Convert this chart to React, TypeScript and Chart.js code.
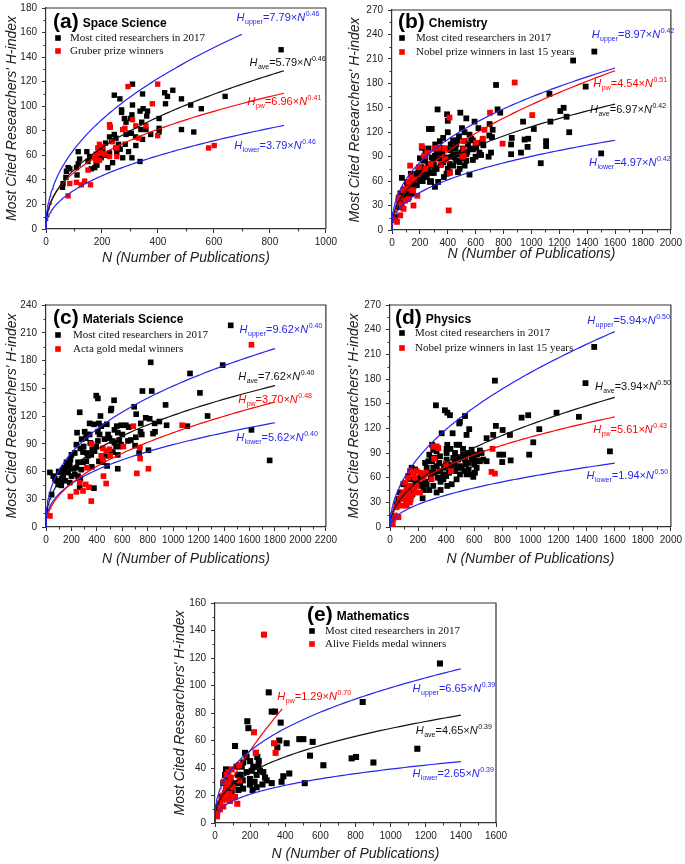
import { useEffect, useRef } from 'react';
import { Chart, registerables } from 'chart.js';
Chart.register(...registerables);

type Pt = [number, number];

const SANS = '"Liberation Sans", Arial, sans-serif';
const SERIF = '"Liberation Serif", "Times New Roman", serif';
const BLUE = '#2424ee';
const RED = '#ff0000';
const BLACK = '#000000';
const AXIS = '#333333';

// ---------- shared text ----------
const X_TITLE = 'N (Number of Publications)';
const Y_TITLE = "Most Cited Researchers' H-index";
const CITED_LABEL = 'Most cited researchers in 2017';
const FIT_KINDS = ['upper', 'ave', 'pw', 'lower'];

// ---------- (a) Space Science ----------
const spaceCited: Pt[] = [[840,146],[640,108],[555,98],[517,101],[528,79],[484,106],[484,81],[453,113],[424,111],[434,108],[427,102],[404,90],[404,82],[404,79],[374,77],[357,81],[363,96],[345,110],[347,98],[336,96],[342,87],[339,81],[345,73],[336,55],[309,118],[309,101],[307,93],[301,90],[305,78],[307,58],[321,68],[295,63],[286,87],[286,77],[283,69],[244,109],[264,106],[270,97],[270,95],[259,69],[253,62],[250,66],[250,74],[244,77],[238,54],[229,83],[227,75],[227,62],[221,50],[213,70],[203,65],[191,65],[185,60],[179,54],[174,50],[150,55],[146,63],[156,59],[120,57],[115,63],[115,53],[109,50],[111,44],[85,49],[79,50],[71,42],[61,37],[59,34],[73,47],[162,49],[197,58],[274,58],[235,72],[280,90],[360,92],[298,78],[320,75],[182,52],[210,60],[265,65]];
const spacePrize: Pt[] = [[293,116],[399,118],[380,102],[309,89],[321,84],[399,76],[332,74],[274,81],[282,82],[227,85],[230,83],[238,71],[253,59],[227,59],[203,67],[195,62],[191,69],[185,66],[179,61],[174,58],[191,56],[179,56],[209,61],[150,48],[159,36],[138,39],[126,36],[109,38],[85,37],[79,27],[581,66],[601,68],[357,84],[253,66]];
const spaceFitA = [7.79, 5.79, 6.96, 3.79];
const spaceFitB = [0.46, 0.46, 0.41, 0.46];
const spaceFitMax = [700, 850, 850, 850];

// ---------- (b) Chemistry ----------
const chemCited: Pt[] = [[1451,219],[1299,208],[1389,176],[746,178],[1129,167],[1231,150],[1207,146],[1252,139],[1271,120],[1136,133],[940,133],[1017,124],[951,111],[977,112],[972,102],[1105,109],[1105,103],[925,95],[859,113],[854,105],[854,93],[1067,82],[1500,94],[757,148],[776,144],[327,148],[395,142],[490,144],[400,134],[533,137],[592,133],[502,125],[265,124],[285,124],[215,101],[556,117],[568,112],[698,116],[722,123],[717,114],[693,90],[710,95],[639,92],[599,90],[604,101],[580,99],[615,107],[655,104],[580,86],[556,68],[485,83],[466,93],[438,79],[414,71],[391,69],[372,65],[343,109],[343,101],[367,113],[421,105],[438,110],[462,105],[521,109],[509,100],[533,93],[485,75],[521,79],[533,85],[308,91],[296,85],[272,79],[249,73],[225,67],[201,61],[178,55],[142,49],[107,45],[71,36],[47,28],[24,16],[71,64],[107,59],[130,57],[154,53],[178,69],[213,77],[237,87],[260,81],[284,89],[308,75],[331,59],[308,53],[272,59],[249,65],[225,85],[189,73],[166,65],[135,69],[367,83],[391,89],[414,81],[450,89],[473,71],[497,95],[627,95],[320,98],[360,95],[455,100],[520,120],[300,70],[240,95],[200,88],[350,80],[430,90],[470,110],[545,105],[90,50],[120,40],[60,45],[160,60],[280,60],[330,88],[400,75],[560,100],[650,110],[700,130],[620,125],[480,115],[400,120],[180,62],[200,70],[220,60],[240,68],[260,72],[280,70],[300,80],[320,75],[340,95],[360,88],[380,100],[420,98],[440,92],[460,85],[500,88],[540,96],[580,110],[600,105],[150,45],[130,50],[110,55],[90,40],[260,100],[310,105]];
const chemPrize: Pt[] = [[880,181],[1006,141],[703,144],[412,138],[663,123],[651,112],[793,106],[604,107],[514,109],[514,99],[514,91],[504,90],[386,86],[414,70],[407,24],[331,101],[303,100],[277,81],[253,95],[230,91],[194,77],[182,42],[154,30],[137,65],[149,49],[130,79],[107,51],[95,36],[118,59],[83,49],[71,30],[47,36],[59,18],[36,10],[17,12],[83,26],[47,40],[213,103],[348,81],[379,87],[377,100],[240,75],[160,62],[115,38]];
const chemFitA = [8.97, 6.97, 4.54, 4.97];
const chemFitB = [0.42, 0.42, 0.51, 0.42];
const chemFitMax = [1600, 1600, 1600, 1600];

// ---------- (c) Materials Science ----------
const matCited: Pt[] = [[1452,218],[1389,175],[1132,166],[1210,145],[1270,120],[823,178],[831,147],[758,147],[395,142],[408,139],[535,137],[693,130],[709,122],[509,126],[514,128],[940,132],[948,110],[1111,109],[1615,105],[1758,72],[784,118],[815,117],[891,114],[854,112],[857,103],[841,101],[745,112],[743,103],[753,100],[805,83],[732,80],[706,97],[644,93],[667,94],[628,110],[590,110],[556,109],[538,105],[564,102],[576,94],[590,89],[577,87],[538,91],[551,87],[519,93],[499,96],[488,100],[478,111],[428,120],[434,109],[421,100],[408,103],[416,112],[377,111],[408,93],[395,87],[364,84],[348,91],[343,100],[343,112],[312,96],[304,103],[296,87],[291,81],[322,80],[265,124],[244,102],[239,89],[226,80],[200,78],[192,73],[187,68],[174,63],[161,61],[148,59],[135,55],[122,52],[109,48],[96,46],[83,50],[70,52],[57,55],[31,59],[44,35],[104,59],[130,62],[143,64],[174,59],[200,55],[226,57],[252,55],[270,52],[265,43],[377,42],[213,63],[239,64],[278,62],[291,70],[317,71],[330,77],[356,78],[382,82],[416,71],[447,70],[473,77],[499,82],[525,81],[564,78],[564,63],[252,70],[161,70],[187,48],[100,60],[150,50],[280,95],[320,100],[460,95],[600,100],[650,108],[700,88],[480,66],[360,65],[270,85],[120,45]];
const matPrize: Pt[] = [[1615,197],[1070,110],[686,109],[608,87],[499,84],[504,77],[447,85],[473,82],[434,77],[447,73],[452,55],[473,47],[358,90],[322,64],[265,48],[239,38],[291,39],[338,43],[312,46],[356,28],[192,33],[31,12],[738,86],[740,74],[714,58],[805,63]];
const matFitA = [9.62, 7.62, 3.70, 5.62];
const matFitB = [0.40, 0.40, 0.48, 0.40];
const matFitMax = [1800, 1800, 1800, 1800];

// ---------- (d) Physics ----------
const physCited: Pt[] = [[1454,219],[1392,175],[747,178],[327,148],[391,142],[408,139],[427,136],[534,135],[498,128],[493,126],[754,123],[735,112],[937,133],[984,136],[1186,139],[1345,134],[1063,119],[1020,103],[991,88],[1566,92],[802,118],[854,112],[859,81],[806,88],[778,88],[799,79],[688,108],[564,119],[545,112],[368,114],[446,114],[408,100],[474,100],[493,100],[403,95],[403,90],[403,82],[415,76],[427,70],[408,50],[439,52],[474,58],[498,64],[510,72],[529,68],[545,64],[581,64],[593,61],[605,66],[598,82],[617,80],[581,94],[557,90],[593,88],[640,93],[617,72],[640,80],[534,88],[463,90],[451,84],[486,82],[356,86],[332,92],[308,94],[320,84],[332,74],[356,68],[356,60],[308,50],[285,66],[261,72],[237,62],[225,52],[232,35],[190,54],[178,70],[154,72],[142,58],[119,50],[119,42],[95,52],[71,42],[59,34],[47,28],[261,52],[213,64],[308,72],[380,64],[332,42],[273,80],[296,82],[384,72],[498,74],[463,68],[534,82],[688,80],[652,90],[664,82],[250,78],[200,60],[170,45],[290,60],[350,78],[430,95],[470,85],[520,95],[560,78],[620,88],[300,100],[240,45],[130,62],[100,35],[280,88],[300,80],[320,66],[340,60],[360,55],[380,58],[400,62],[420,66],[440,75],[460,78],[480,72],[500,84],[520,88],[540,76],[560,70],[580,84],[600,76],[620,80],[360,45],[280,45],[250,55],[220,50],[180,55],[160,40],[140,48]];
const physPrize: Pt[] = [[308,98],[332,98],[344,96],[315,83],[296,58],[434,68],[730,95],[723,67],[747,65],[396,77],[142,68],[166,66],[190,68],[213,66],[237,60],[256,66],[130,60],[178,60],[107,54],[142,50],[166,48],[119,46],[95,42],[130,40],[154,38],[107,36],[83,38],[71,34],[142,30],[119,26],[83,26],[59,28],[47,24],[36,14],[24,10],[12,5],[43,12],[190,50],[213,42],[178,42],[147,34],[114,32],[20,3],[60,12]];
const physFitA = [5.94, 3.94, 5.61, 1.94];
const physFitB = [0.50, 0.50, 0.43, 0.50];
const physFitMax = [1600, 1600, 1600, 1600];

// ---------- (e) Mathematics ----------
const mathCited: Pt[] = [[1281,116],[1152,54],[841,88],[902,44],[803,48],[778,47],[617,42],[556,59],[541,49],[503,61],[480,61],[511,29],[423,36],[408,58],[389,34],[379,30],[374,73],[366,60],[355,55],[342,81],[323,81],[306,95],[323,29],[294,31],[285,33],[275,37],[249,45],[241,48],[233,51],[247,41],[237,35],[237,26],[214,24],[199,32],[199,28],[190,69],[184,74],[180,48],[171,51],[161,44],[152,41],[146,35],[142,29],[133,24],[180,37],[158,31],[123,29],[114,56],[104,27],[95,23],[85,18],[76,23],[66,33],[63,39],[57,35],[47,29],[38,19],[28,14],[19,10],[10,5],[123,41],[218,41],[256,38],[209,38],[270,28],[225,30],[160,25],[130,35],[90,30],[200,45]];
const mathPrize: Pt[] = [[279,137],[222,66],[336,58],[345,51],[233,51],[137,42],[139,31],[127,14],[95,39],[76,37],[66,35],[89,33],[51,30],[76,29],[63,26],[101,26],[104,19],[114,19],[82,21],[57,22],[47,20],[38,17],[28,14],[19,12],[13,8],[10,5],[28,10],[47,12],[66,17],[85,16]];
const mathFitA = [6.65, 4.65, 1.29, 2.65];
const mathFitB = [0.39, 0.39, 0.70, 0.39];
const mathFitMax = [1400, 1400, 383, 1400];

// ---------- layout / styling (not data) ----------
interface PanelSpec {
  tag: string; field: string; prizeLabel: string;
  cited: Pt[]; prize: Pt[]; fitA: number[]; fitB: number[]; fitMax: number[];
  xMax: number; xStep: number; yMax: number; yStep: number;
  canvasLeft: number; canvasRight: number; plotLeft: number; plotTop: number; plotRight: number; plotBottom: number; titleGap: number;
  tagDx: number; tagDy: number; legDx: number; legTextDx: number; legDy1: number; legDy2: number;
  eqPos: Pt[]; marker: number;
}

const panels: PanelSpec[] = [
  { tag: '(a)', field: 'Space Science', prizeLabel: 'Gruber prize winners', cited: spaceCited, prize: spacePrize, fitA: spaceFitA, fitB: spaceFitB, fitMax: spaceFitMax,
    xMax: 1000, xStep: 200, yMax: 180, yStep: 20,
    canvasLeft: 0, canvasRight: 340, plotLeft: 46, plotTop: 5, plotRight: 328, plotBottom: 229, titleGap: 30,
    tagDx: 7, tagDy: 20, legDx: 12, legTextDx: 24, legDy1: 30, legDy2: 43,
    eqPos: [[681,169.5],[727,133],[720,101],[673,65]], marker: 3.8 },
  { tag: '(b)', field: 'Chemistry', prizeLabel: 'Nobel prize winners in last 15 years', cited: chemCited, prize: chemPrize, fitA: chemFitA, fitB: chemFitB, fitMax: chemFitMax,
    xMax: 2000, xStep: 200, yMax: 270, yStep: 30,
    canvasLeft: 343, canvasRight: 685, plotLeft: 392, plotTop: 7, plotRight: 673, plotBottom: 230, titleGap: 25,
    tagDx: 6, tagDy: 18, legDx: 10, legTextDx: 24, legDy1: 28, legDy2: 42,
    eqPos: [[1432,236],[1420,143.5],[1444,176],[1413,79]], marker: 4.1 },
  { tag: '(c)', field: 'Materials Science', prizeLabel: 'Acta gold medal winners', cited: matCited, prize: matPrize, fitA: matFitA, fitB: matFitB, fitMax: matFitMax,
    xMax: 2200, xStep: 200, yMax: 240, yStep: 30,
    canvasLeft: 0, canvasRight: 340, plotLeft: 46, plotTop: 302, plotRight: 328, plotBottom: 527, titleGap: 33,
    tagDx: 7, tagDy: 19, legDx: 12, legTextDx: 27, legDy1: 30, legDy2: 44,
    eqPos: [[1522,210],[1511,158.7],[1511,134],[1496,92.7]], marker: 4 },
  { tag: '(d)', field: 'Physics', prizeLabel: 'Nobel prize winners in last 15 years', cited: physCited, prize: physPrize, fitA: physFitA, fitB: physFitB, fitMax: physFitMax,
    xMax: 2000, xStep: 200, yMax: 270, yStep: 30,
    canvasLeft: 342, canvasRight: 685, plotLeft: 390, plotTop: 302, plotRight: 671, plotBottom: 527, titleGap: 33,
    tagDx: 5, tagDy: 19, legDx: 12, legTextDx: 25, legDy1: 28, legDy2: 43,
    eqPos: [[1404,246.7],[1459,166.5],[1447,114.3],[1400,58]], marker: 4.1 },
  { tag: '(e)', field: 'Mathematics', prizeLabel: 'Alive Fields medal winners', cited: mathCited, prize: mathPrize, fitA: mathFitA, fitB: mathFitB, fitMax: mathFitMax,
    xMax: 1600, xStep: 200, yMax: 160, yStep: 20,
    canvasLeft: 168, canvasRight: 512, plotLeft: 215, plotTop: 600, plotRight: 496, plotBottom: 823, titleGap: 32,
    tagDx: 92, tagDy: 18, legDx: 97, legTextDx: 110, legDy1: 28, legDy2: 41,
    eqPos: [[1125,95.5],[1143,65],[355,89.5],[1124,33.4]], marker: 4.3 },
];

const kindColor = (k: string) => (k === 'pw' ? RED : k === 'ave' ? '#111111' : BLUE);

function fitCurve(a: number, b: number, nMax: number) {
  const pts: { x: number; y: number }[] = [];
  const steps = 90;
  for (let i = 0; i <= steps; i++) {
    const n = nMax * Math.pow(i / steps, 2);
    pts.push({ x: n, y: a * Math.pow(n, b) });
  }
  return pts;
}

function drawEq(ctx: CanvasRenderingContext2D, x: number, y: number, sub: string, a: number, b: number, color: string) {
  const big = 11, small = 7;
  ctx.fillStyle = color;
  ctx.textAlign = 'left';
  ctx.textBaseline = 'alphabetic';
  ctx.font = `italic ${big}px ${SANS}`;
  ctx.fillText('H', x, y); x += ctx.measureText('H').width + 0.5;
  ctx.font = `${small}px ${SANS}`;
  ctx.fillText(sub, x, y + 3); x += ctx.measureText(sub).width;
  ctx.font = `${big}px ${SANS}`;
  const mid = `=${a.toFixed(2)}×`;
  ctx.fillText(mid, x, y); x += ctx.measureText(mid).width;
  ctx.font = `italic ${big}px ${SANS}`;
  ctx.fillText('N', x, y); x += ctx.measureText('N').width + 0.5;
  ctx.font = `${small}px ${SANS}`;
  ctx.fillText(b.toFixed(2), x, y - 5);
}

const decorPlugin = {
  id: 'decor',
  afterDraw(chart: any, _args: any, o: any) {
    const p: PanelSpec = o.spec;
    if (!p) return;
    const { ctx, chartArea: ca, scales } = chart;
    const xs = scales.x, ys = scales.y;
    ctx.save();
    ctx.strokeStyle = AXIS;
    ctx.lineWidth = 1.2;
    ctx.beginPath();
    ctx.moveTo(ca.left, ca.top);
    ctx.lineTo(ca.right, ca.top);
    ctx.lineTo(ca.right, ca.bottom);
    ctx.stroke();
    ctx.lineWidth = 1;
    ctx.beginPath();
    for (let v = p.xStep / 2; v < p.xMax; v += p.xStep) {
      const px = Math.round(xs.getPixelForValue(v)) + 0.5;
      ctx.moveTo(px, ca.bottom); ctx.lineTo(px, ca.bottom + 2.5);
    }
    for (let v = p.yStep / 2; v < p.yMax; v += p.yStep) {
      const py = Math.round(ys.getPixelForValue(v)) + 0.5;
      ctx.moveTo(ca.left, py); ctx.lineTo(ca.left - 2.5, py);
    }
    ctx.stroke();
    ctx.fillStyle = BLACK;
    ctx.textAlign = 'left';
    ctx.textBaseline = 'alphabetic';
    ctx.font = `bold 21px ${SANS}`;
    const tx = ca.left + p.tagDx, ty = ca.top + p.tagDy;
    ctx.fillText(p.tag, tx, ty);
    const tw = ctx.measureText(p.tag).width;
    ctx.font = `bold 12px ${SANS}`;
    ctx.fillText(p.field, tx + tw + 4, ty - 1);
    const rows: [string, string, number][] = [[BLACK, CITED_LABEL, p.legDy1], [RED, p.prizeLabel, p.legDy2]];
    ctx.textBaseline = 'middle';
    ctx.font = `11px ${SERIF}`;
    for (const [c, t, dy] of rows) {
      const cx = ca.left + p.legDx, cy = ca.top + dy;
      ctx.fillStyle = c;
      ctx.fillRect(cx - 2.8, cy - 2.8, 5.6, 5.6);
      ctx.fillStyle = '#111';
      ctx.fillText(t, ca.left + p.legTextDx, cy + 0.5);
    }
    FIT_KINDS.forEach((k, i) => {
      const [n, h] = p.eqPos[i];
      drawEq(ctx, xs.getPixelForValue(n), ys.getPixelForValue(h), k, p.fitA[i], p.fitB[i], kindColor(k));
    });
    ctx.restore();
  },
};

const plainTick = (v: any) => String(v);

function Panel({ p }: { p: PanelSpec }) {
  const ref = useRef<HTMLCanvasElement>(null);
  const canvasTop = p.plotTop - 8;
  const width = p.canvasRight - p.canvasLeft;
  const height = Math.round(p.plotBottom - canvasTop + p.titleGap + 10.4);
  const xAxisH = height - (p.plotBottom - canvasTop);
  const yAxisW = p.plotLeft - p.canvasLeft;
  const padRight = p.canvasRight - p.plotRight;

  useEffect(() => {
    if (!ref.current) return;
    const fitSets = FIT_KINDS.map((k, i) => ({
      data: fitCurve(p.fitA[i], p.fitB[i], p.fitMax[i]),
      showLine: true,
      borderColor: kindColor(k),
      borderWidth: 1.2,
      pointRadius: 0,
      fill: false,
      tension: 0,
    }));
    const pts = (arr: Pt[]) => arr.map(([x, y]) => ({ x, y }));
    const chart = new Chart(ref.current, {
      type: 'scatter',
      data: {
        datasets: [
          ...fitSets,
          { data: pts(p.prize), pointStyle: 'rect', pointRadius: p.marker, backgroundColor: RED, borderWidth: 0 },
          { data: pts(p.cited), pointStyle: 'rect', pointRadius: p.marker, backgroundColor: BLACK, borderWidth: 0 },
        ] as any,
      },
      options: {
        animation: false,
        responsive: false,
        maintainAspectRatio: false,
        events: [],
        layout: { padding: { top: 8, right: padRight, left: 0, bottom: 0 } },
        plugins: { legend: { display: false }, tooltip: { enabled: false }, decor: { spec: p } } as any,
        scales: {
          x: {
            type: 'linear', position: 'bottom', min: 0, max: p.xMax,
            ticks: { stepSize: p.xStep, autoSkip: false, maxRotation: 0, minRotation: 0, padding: 3, color: '#222', font: { family: SANS, size: 10 }, callback: plainTick },
            grid: { drawOnChartArea: false, drawTicks: true, tickLength: 4, color: AXIS, lineWidth: 1 },
            border: { display: true, color: AXIS, width: 1.2 },
            title: { display: true, text: X_TITLE, color: '#222', font: { family: SANS, size: 14, style: 'italic' }, padding: { top: 0, bottom: 2 } },
            afterFit: (s: any) => { s.height = xAxisH; },
          },
          y: {
            type: 'linear', position: 'left', min: 0, max: p.yMax,
            ticks: { stepSize: p.yStep, autoSkip: false, padding: 5, color: '#222', font: { family: SANS, size: 10 }, callback: plainTick },
            grid: { drawOnChartArea: false, drawTicks: true, tickLength: 4, color: AXIS, lineWidth: 1 },
            border: { display: true, color: AXIS, width: 1.2 },
            title: { display: true, text: Y_TITLE, color: '#222', font: { family: SANS, size: 14, style: 'italic' }, padding: { top: 3.5, bottom: 0 } },
            afterFit: (s: any) => { s.width = yAxisW; },
          },
        },
      } as any,
      plugins: [decorPlugin],
    });
    return () => chart.destroy();
  }, []);

  return (
    <canvas
      ref={ref}
      width={width}
      height={height}
      style={{ position: 'absolute', left: p.canvasLeft, top: canvasTop, width, height }}
    />
  );
}

export default function App() {
  return (
    <div style={{ position: 'absolute', left: 0, top: 0, width: 685, height: 864, background: '#ffffff', overflow: 'hidden' }}>
      {panels.map((p) => (
        <Panel key={p.tag} p={p} />
      ))}
    </div>
  );
}
